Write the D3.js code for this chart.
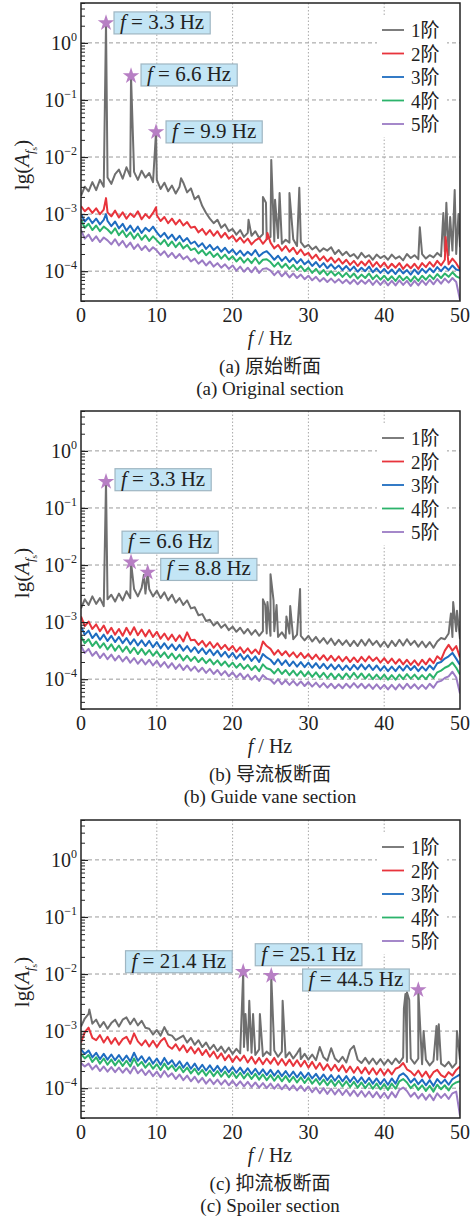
<!DOCTYPE html>
<html>
<head>
<meta charset="utf-8">
<script src="https://cdn.jsdelivr.net/npm/d3@7"></script>
<style>
body { margin: 0; background: #fff; }
svg { display: block; }
text { font-family: "Liberation Serif", "Times New Roman", "Noto Sans CJK SC", serif; fill: #222; }
</style>
</head>
<body>
<div id="chart"></div>
<script>
// lg(A) of each mode, one value every 0.5 Hz from 0 to 50 Hz (101 values)
var freqs = d3.range(101).map(i => i / 2);
var seriesNames = ["1阶", "2阶", "3阶", "4阶", "5阶"];
var xTicks = [0, 10, 20, 30, 40, 50];
var yDecades = [0, -1, -2, -3, -4];

// (a) original section
var origLg1 = [
  -2.68, -2.52, -2.60, -2.44, -2.58, -2.40, -2.52, -2.36, -2.47, -2.30,
  -2.22, -2.38, -2.18, -2.34, -2.26, -2.40, -2.24, -2.36, -2.28, -2.44,
  -2.40, -2.56, -2.45, -2.60, -2.50, -2.64, -2.52, -2.45, -2.62, -2.55,
  -2.74, -2.68, -2.86, -2.98, -3.08, -3.16, -3.10, -3.24, -3.18, -3.30,
  -3.26, -3.36, -3.28, -3.40, -3.33, -3.38, -3.30, -3.42, -3.35, -3.44,
  -3.40, -3.48, -3.42, -3.52, -3.45, -3.50, -3.44, -3.56, -3.49, -3.58,
  -3.54, -3.62, -3.57, -3.66, -3.60, -3.64, -3.58, -3.70, -3.63, -3.72,
  -3.66, -3.74, -3.70, -3.78, -3.68, -3.76, -3.72, -3.80, -3.71, -3.77,
  -3.73, -3.80, -3.71, -3.78, -3.74, -3.81, -3.70, -3.77, -3.72, -3.79,
  -3.70, -3.78, -3.72, -3.76, -3.68, -3.74, -3.66, -3.72, -3.64, -3.70,
  -3.58];
var origLg2 = [
  -2.86, -2.95, -2.89, -2.98, -2.90, -3.00, -2.92, -2.97, -3.04, -2.94,
  -3.06, -2.97, -3.08, -2.99, -3.05, -2.95, -3.09, -3.00, -3.07, -2.98,
  -3.02, -3.12, -3.05, -3.16, -3.08, -3.18, -3.10, -3.20, -3.14, -3.24,
  -3.22, -3.32, -3.26, -3.36, -3.28, -3.38, -3.30, -3.41, -3.33, -3.43,
  -3.38, -3.48, -3.41, -3.50, -3.43, -3.53, -3.46, -3.42, -3.52, -3.44,
  -3.50, -3.60, -3.54, -3.64, -3.56, -3.66, -3.59, -3.70, -3.62, -3.72,
  -3.68, -3.78, -3.71, -3.81, -3.74, -3.83, -3.76, -3.85, -3.78, -3.87,
  -3.80, -3.89, -3.82, -3.91, -3.83, -3.90, -3.81, -3.92, -3.84, -3.93,
  -3.85, -3.95, -3.87, -3.94, -3.86, -3.96, -3.88, -3.95, -3.87, -3.96,
  -3.86, -3.93, -3.84, -3.92, -3.82, -3.90, -3.80, -3.88, -3.78, -3.86,
  -3.97];
var origLg3 = [
  -3.00, -3.13, -3.06, -3.16, -3.08, -3.18, -3.10, -3.12, -3.21, -3.13,
  -3.25, -3.17, -3.29, -3.20, -3.31, -3.22, -3.33, -3.24, -3.30, -3.22,
  -3.32, -3.40, -3.33, -3.43, -3.36, -3.46, -3.38, -3.48, -3.42, -3.52,
  -3.48, -3.57, -3.51, -3.61, -3.54, -3.63, -3.57, -3.66, -3.59, -3.68,
  -3.62, -3.71, -3.64, -3.73, -3.66, -3.72, -3.63, -3.74, -3.68, -3.65,
  -3.72, -3.80, -3.73, -3.82, -3.75, -3.84, -3.77, -3.86, -3.79, -3.88,
  -3.82, -3.91, -3.84, -3.93, -3.86, -3.95, -3.88, -3.96, -3.90, -3.98,
  -3.91, -3.99, -3.92, -4.01, -3.94, -4.00, -3.92, -4.02, -3.95, -4.03,
  -3.96, -4.04, -3.97, -4.05, -3.96, -4.04, -3.98, -4.06, -3.97, -4.05,
  -3.96, -4.03, -3.95, -4.02, -3.93, -4.00, -3.92, -3.98, -3.90, -3.97,
  -3.99];
var origLg4 = [
  -3.10, -3.24, -3.17, -3.28, -3.20, -3.30, -3.22, -3.27, -3.34, -3.25,
  -3.37, -3.29, -3.40, -3.32, -3.43, -3.34, -3.45, -3.37, -3.47, -3.39,
  -3.46, -3.53, -3.45, -3.56, -3.48, -3.58, -3.50, -3.60, -3.54, -3.63,
  -3.60, -3.69, -3.63, -3.72, -3.66, -3.75, -3.69, -3.78, -3.71, -3.80,
  -3.74, -3.83, -3.76, -3.85, -3.78, -3.86, -3.77, -3.87, -3.80, -3.79,
  -3.84, -3.92, -3.85, -3.94, -3.87, -3.96, -3.89, -3.98, -3.91, -4.00,
  -3.94, -4.03, -3.96, -4.05, -3.98, -4.07, -4.00, -4.08, -4.02, -4.10,
  -4.03, -4.11, -4.04, -4.13, -4.06, -4.12, -4.04, -4.14, -4.07, -4.15,
  -4.08, -4.16, -4.09, -4.17, -4.08, -4.16, -4.10, -4.18, -4.09, -4.17,
  -4.08, -4.15, -4.07, -4.14, -4.05, -4.12, -4.04, -4.10, -4.02, -4.09,
  -4.12];
var origLg5 = [
  -3.28, -3.43, -3.36, -3.47, -3.39, -3.49, -3.41, -3.46, -3.53, -3.44,
  -3.55, -3.47, -3.58, -3.50, -3.61, -3.53, -3.63, -3.56, -3.65, -3.58,
  -3.64, -3.72, -3.65, -3.75, -3.68, -3.77, -3.70, -3.79, -3.74, -3.83,
  -3.78, -3.87, -3.81, -3.90, -3.83, -3.92, -3.86, -3.94, -3.88, -3.96,
  -3.90, -3.99, -3.92, -4.01, -3.94, -4.02, -3.93, -4.03, -3.96, -3.95,
  -3.99, -4.07, -4.00, -4.09, -4.02, -4.11, -4.04, -4.12, -4.06, -4.14,
  -4.08, -4.16, -4.10, -4.18, -4.12, -4.19, -4.13, -4.20, -4.14, -4.21,
  -4.15, -4.22, -4.15, -4.23, -4.16, -4.22, -4.15, -4.24, -4.16, -4.24,
  -4.16, -4.25, -4.17, -4.25, -4.16, -4.24, -4.17, -4.26, -4.17, -4.25,
  -4.16, -4.24, -4.15, -4.23, -4.14, -4.22, -4.13, -4.20, -4.12, -4.19,
  -4.50];
// narrow spikes [Hz, lg(A)]
var origPeaks1 = [[3.3, 0.35], [6.6, -0.58], [9.9, -1.56], [13.2, -2.37], [22.1, -3.10],
  [24.0, -2.70], [24.4, -2.80], [25.1, -2.05], [25.6, -2.75], [26.2, -2.63], [27.5, -2.63],
  [28.8, -2.54], [44.7, -3.23], [47.8, -2.98], [48.2, -2.80], [48.7, -3.05], [49.3, -2.58],
  [49.8, -3.00]];
var origPeaks2 = [[3.3, -2.72], [9.9, -2.88], [24.6, -3.33], [48.1, -3.40]];
var origPeaks3 = [[3.3, -3.00]];
var origMarks = [3.3, 6.6, 9.9];

// (b) guide vane section
var vaneLg1 = [
  -2.76, -2.60, -2.70, -2.55, -2.68, -2.58, -2.72, -2.60, -2.52, -2.64,
  -2.50, -2.62, -2.46, -2.58, -2.42, -2.55, -2.40, -2.50, -2.42, -2.55,
  -2.45, -2.58, -2.48, -2.62, -2.52, -2.66, -2.58, -2.70, -2.62, -2.76,
  -2.74, -2.88, -2.86, -2.98, -2.96, -3.06, -3.00, -3.10, -3.04, -3.14,
  -3.08, -3.17, -3.10, -3.20, -3.12, -3.22, -3.14, -3.24, -3.16, -3.20,
  -3.24, -3.16, -3.26, -3.18, -3.28, -3.20, -3.30, -3.22, -3.24, -3.32,
  -3.24, -3.34, -3.26, -3.36, -3.28, -3.38, -3.29, -3.40, -3.31, -3.40,
  -3.32, -3.42, -3.33, -3.42, -3.31, -3.41, -3.30, -3.40, -3.33, -3.43,
  -3.34, -3.44, -3.33, -3.42, -3.31, -3.41, -3.30, -3.40, -3.33, -3.43,
  -3.34, -3.44, -3.35, -3.45, -3.34, -3.28, -3.30, -3.20, -3.26, -3.16,
  -3.30];
var vaneLg2 = [
  -2.90, -3.07, -2.99, -3.12, -3.04, -3.16, -3.06, -3.20, -3.10, -3.22,
  -3.12, -3.24, -3.10, -3.22, -3.09, -3.23, -3.13, -3.25, -3.14, -3.26,
  -3.17, -3.29, -3.20, -3.31, -3.22, -3.33, -3.23, -3.34, -3.18, -3.32,
  -3.31, -3.40, -3.33, -3.43, -3.35, -3.45, -3.37, -3.47, -3.40, -3.49,
  -3.42, -3.52, -3.44, -3.54, -3.46, -3.55, -3.48, -3.56, -3.34, -3.42,
  -3.47, -3.57, -3.49, -3.58, -3.51, -3.60, -3.53, -3.62, -3.54, -3.63,
  -3.56, -3.65, -3.57, -3.66, -3.58, -3.67, -3.59, -3.68, -3.60, -3.69,
  -3.61, -3.70, -3.62, -3.70, -3.61, -3.69, -3.60, -3.68, -3.62, -3.71,
  -3.63, -3.72, -3.64, -3.73, -3.65, -3.74, -3.66, -3.75, -3.67, -3.76,
  -3.66, -3.74, -3.64, -3.72, -3.60, -3.66, -3.50, -3.40, -3.50, -3.42,
  -3.62];
var vaneLg3 = [
  -3.08, -3.22, -3.15, -3.28, -3.20, -3.31, -3.22, -3.33, -3.24, -3.35,
  -3.26, -3.37, -3.28, -3.39, -3.30, -3.41, -3.32, -3.42, -3.33, -3.44,
  -3.35, -3.46, -3.37, -3.47, -3.39, -3.49, -3.40, -3.50, -3.42, -3.52,
  -3.44, -3.54, -3.46, -3.56, -3.48, -3.58, -3.50, -3.60, -3.52, -3.62,
  -3.54, -3.64, -3.56, -3.66, -3.58, -3.68, -3.60, -3.70, -3.56, -3.62,
  -3.66, -3.74, -3.65, -3.75, -3.67, -3.77, -3.69, -3.78, -3.70, -3.79,
  -3.71, -3.80, -3.72, -3.81, -3.73, -3.82, -3.74, -3.83, -3.75, -3.84,
  -3.76, -3.84, -3.75, -3.83, -3.74, -3.83, -3.75, -3.84, -3.76, -3.85,
  -3.77, -3.86, -3.78, -3.86, -3.77, -3.85, -3.76, -3.84, -3.77, -3.86,
  -3.78, -3.85, -3.76, -3.83, -3.72, -3.70, -3.64, -3.60, -3.54, -3.64,
  -3.75];
var vaneLg4 = [
  -3.25, -3.37, -3.30, -3.42, -3.34, -3.45, -3.37, -3.48, -3.39, -3.50,
  -3.41, -3.52, -3.43, -3.54, -3.45, -3.56, -3.47, -3.57, -3.49, -3.59,
  -3.51, -3.61, -3.53, -3.63, -3.55, -3.65, -3.57, -3.67, -3.59, -3.68,
  -3.61, -3.70, -3.63, -3.72, -3.65, -3.74, -3.67, -3.76, -3.69, -3.78,
  -3.71, -3.80, -3.73, -3.82, -3.75, -3.84, -3.77, -3.86, -3.74, -3.81,
  -3.83, -3.90, -3.82, -3.91, -3.84, -3.93, -3.85, -3.94, -3.86, -3.95,
  -3.87, -3.96, -3.88, -3.97, -3.89, -3.98, -3.90, -3.99, -3.91, -3.99,
  -3.90, -3.98, -3.89, -3.98, -3.90, -3.99, -3.91, -4.00, -3.92, -4.00,
  -3.92, -4.01, -3.93, -4.01, -3.92, -4.00, -3.91, -3.99, -3.92, -4.00,
  -3.93, -4.00, -3.91, -3.98, -3.88, -3.85, -3.80, -3.77, -3.71, -3.80,
  -3.92];
var vaneLg5 = [
  -3.42, -3.54, -3.47, -3.59, -3.52, -3.63, -3.55, -3.65, -3.57, -3.67,
  -3.59, -3.69, -3.61, -3.71, -3.63, -3.73, -3.65, -3.74, -3.66, -3.76,
  -3.68, -3.78, -3.70, -3.80, -3.72, -3.82, -3.74, -3.84, -3.76, -3.85,
  -3.78, -3.87, -3.80, -3.89, -3.82, -3.91, -3.84, -3.93, -3.86, -3.95,
  -3.88, -3.97, -3.90, -3.99, -3.92, -4.01, -3.94, -4.03, -3.93, -3.99,
  -4.01, -4.08, -4.00, -4.09, -4.02, -4.10, -4.03, -4.11, -4.04, -4.12,
  -4.05, -4.13, -4.06, -4.14, -4.07, -4.15, -4.08, -4.16, -4.09, -4.16,
  -4.08, -4.15, -4.07, -4.15, -4.08, -4.16, -4.09, -4.17, -4.09, -4.17,
  -4.10, -4.18, -4.10, -4.18, -4.09, -4.17, -4.08, -4.16, -4.09, -4.17,
  -4.10, -4.17, -4.08, -4.15, -4.05, -4.03, -3.98, -3.95, -3.87, -3.97,
  -4.25];
var vanePeaks1 = [[3.3, -0.54], [6.6, -1.95], [8.3, -2.17], [8.8, -2.13], [24.0, -2.60],
  [24.3, -2.70], [24.6, -2.65], [25.0, -2.16], [25.4, -2.62], [25.8, -2.70], [27.1, -2.90],
  [27.6, -2.72], [28.9, -2.42], [48.8, -2.85], [49.1, -2.65], [49.6, -2.80]];
var vaneMarks = [3.3, 6.6, 8.8];

// (c) spoiler section
var spoilLg1 = [
  -2.92, -2.78, -2.70, -2.87, -2.80, -2.93, -2.84, -2.96, -2.86, -2.80,
  -2.92, -2.80, -2.76, -2.88, -2.78, -2.90, -2.82, -2.94, -2.96, -3.06,
  -2.98, -3.08, -2.93, -3.06, -3.08, -3.16, -3.12, -3.08, -3.20, -3.12,
  -3.24, -3.16, -3.28, -3.20, -3.32, -3.24, -3.35, -3.27, -3.38, -3.29,
  -3.40, -3.31, -3.39, -3.28, -3.34, -3.38, -3.42, -3.32, -3.44, -3.36,
  -3.42, -3.34, -3.45, -3.36, -3.46, -3.37, -3.48, -3.39, -3.49, -3.40,
  -3.50, -3.41, -3.51, -3.28, -3.46, -3.52, -3.30, -3.48, -3.54, -3.45,
  -3.55, -3.33, -3.26, -3.50, -3.56, -3.47, -3.57, -3.48, -3.58, -3.49,
  -3.59, -3.50, -3.58, -3.48, -3.56, -3.46, -3.54, -3.48, -3.57, -3.48,
  -3.58, -3.50, -3.60, -3.52, -3.50, -3.57, -3.62, -3.54, -3.64, -3.56,
  -3.50];
var spoilLg2 = [
  -3.20, -3.02, -2.94, -3.12, -3.16, -3.07, -3.20, -3.10, -3.22, -3.12,
  -3.24, -3.14, -3.10, -3.22, -3.04, -3.18, -3.25, -3.16, -3.27, -3.17,
  -3.28, -3.18, -3.12, -3.26, -3.31, -3.23, -3.34, -3.25, -3.37, -3.28,
  -3.39, -3.30, -3.42, -3.33, -3.45, -3.36, -3.48, -3.39, -3.51, -3.42,
  -3.54, -3.44, -3.52, -3.43, -3.55, -3.45, -3.57, -3.47, -3.58, -3.48,
  -3.57, -3.47, -3.59, -3.49, -3.60, -3.50, -3.61, -3.51, -3.62, -3.52,
  -3.64, -3.54, -3.66, -3.56, -3.68, -3.58, -3.69, -3.59, -3.70, -3.60,
  -3.72, -3.62, -3.73, -3.63, -3.74, -3.64, -3.75, -3.65, -3.76, -3.66,
  -3.77, -3.67, -3.76, -3.66, -3.63, -3.56, -3.67, -3.71, -3.78, -3.69,
  -3.80, -3.71, -3.82, -3.72, -3.68, -3.77, -3.81, -3.72, -3.78, -3.68,
  -3.62];
var spoilLg3 = [
  -3.32, -3.40, -3.34, -3.46, -3.38, -3.49, -3.40, -3.50, -3.41, -3.51,
  -3.42, -3.52, -3.43, -3.53, -3.38, -3.52, -3.44, -3.55, -3.46, -3.57,
  -3.48, -3.59, -3.47, -3.58, -3.51, -3.62, -3.53, -3.64, -3.55, -3.66,
  -3.57, -3.68, -3.59, -3.69, -3.60, -3.70, -3.61, -3.71, -3.62, -3.72,
  -3.63, -3.73, -3.64, -3.74, -3.65, -3.75, -3.66, -3.76, -3.67, -3.77,
  -3.68, -3.78, -3.69, -3.79, -3.70, -3.80, -3.71, -3.81, -3.72, -3.82,
  -3.73, -3.83, -3.75, -3.85, -3.76, -3.86, -3.77, -3.87, -3.78, -3.88,
  -3.79, -3.89, -3.80, -3.90, -3.81, -3.91, -3.82, -3.92, -3.83, -3.93,
  -3.84, -3.94, -3.83, -3.92, -3.78, -3.74, -3.80, -3.90, -3.83, -3.93,
  -3.85, -3.95, -3.86, -3.96, -3.84, -3.92, -3.85, -3.94, -3.84, -3.80,
  -3.76];
var spoilLg4 = [
  -3.40, -3.48, -3.42, -3.54, -3.46, -3.57, -3.48, -3.59, -3.50, -3.60,
  -3.51, -3.61, -3.52, -3.62, -3.48, -3.61, -3.54, -3.64, -3.56, -3.66,
  -3.58, -3.68, -3.57, -3.67, -3.60, -3.70, -3.62, -3.72, -3.64, -3.74,
  -3.66, -3.76, -3.68, -3.78, -3.69, -3.79, -3.70, -3.80, -3.71, -3.81,
  -3.72, -3.82, -3.73, -3.83, -3.74, -3.84, -3.75, -3.85, -3.76, -3.86,
  -3.77, -3.87, -3.78, -3.88, -3.79, -3.89, -3.80, -3.90, -3.81, -3.91,
  -3.82, -3.92, -3.84, -3.94, -3.85, -3.95, -3.86, -3.96, -3.87, -3.97,
  -3.88, -3.98, -3.89, -3.99, -3.90, -4.00, -3.91, -4.01, -3.92, -4.02,
  -3.93, -4.03, -3.92, -4.01, -3.88, -3.84, -3.90, -4.00, -3.93, -4.03,
  -3.95, -4.05, -3.96, -4.06, -3.94, -4.02, -3.95, -4.04, -3.94, -3.90,
  -3.88];
var spoilLg5 = [
  -3.56, -3.62, -3.57, -3.67, -3.60, -3.70, -3.62, -3.71, -3.63, -3.72,
  -3.64, -3.73, -3.65, -3.74, -3.62, -3.74, -3.67, -3.77, -3.69, -3.79,
  -3.71, -3.81, -3.70, -3.80, -3.74, -3.84, -3.76, -3.86, -3.78, -3.88,
  -3.80, -3.90, -3.82, -3.92, -3.84, -3.93, -3.85, -3.94, -3.86, -3.95,
  -3.87, -3.96, -3.88, -3.97, -3.89, -3.98, -3.90, -3.99, -3.91, -4.00,
  -3.92, -4.01, -3.93, -4.02, -3.94, -4.03, -3.95, -4.04, -3.96, -4.05,
  -3.97, -4.07, -3.99, -4.09, -4.00, -4.10, -4.01, -4.11, -4.02, -4.12,
  -4.03, -4.13, -4.04, -4.14, -4.05, -4.15, -4.06, -4.16, -4.07, -4.17,
  -4.08, -4.18, -4.07, -4.16, -4.03, -3.99, -4.05, -4.15, -4.08, -4.18,
  -4.10, -4.20, -4.11, -4.21, -4.09, -4.17, -4.10, -4.19, -4.09, -4.06,
  -4.48];
var spoilPeaks1 = [[1.1, -2.62], [21.4, -1.96], [21.7, -2.70], [22.2, -2.47], [22.7, -2.70],
  [23.6, -2.70], [25.1, -2.03], [26.6, -2.47], [28.9, -3.30], [42.6, -2.60], [42.8, -2.35],
  [43.0, -2.32], [43.3, -2.45], [44.5, -2.28], [45.2, -3.00], [46.9, -2.91], [47.2, -2.88],
  [49.6, -3.00]];
var spoilMarks = [21.4, 25.1, 44.5];

var colors = ["#6f6f6f", "#e8343c", "#1e6cc0", "#2cb36b", "#9b7bc4"];
var width = 475, height = 1219;
var left = 81, right = 460, plotH = 298;

var panels = [
  { top: 3, lg: [origLg1, origLg2, origLg3, origLg4, origLg5],
    peaks: [origPeaks1, origPeaks2, origPeaks3, [], []], marks: origMarks,
    boxes: [[8, -11, "start"], [10, -12, "start"], [10, -11, "start"]],
    caption: ["(a) 原始断面", "(a) Original section"] },
  { top: 411, lg: [vaneLg1, vaneLg2, vaneLg3, vaneLg4, vaneLg5],
    peaks: [vanePeaks1, [], [], [], []], marks: vaneMarks,
    boxes: [[9, -13, "start"], [-9, -31, "start"], [13, -14, "start"]],
    caption: ["(b) 导流板断面", "(b) Guide vane section"] },
  { top: 820, lg: [spoilLg1, spoilLg2, spoilLg3, spoilLg4, spoilLg5],
    peaks: [spoilPeaks1, [], [], [], []], marks: spoilMarks,
    boxes: [[-11, -21, "end"], [-16, -32, "start"], [-9, -21, "end"]],
    caption: ["(c) 抑流板断面", "(c) Spoiler section"] }
];

var svg = d3.select("#chart").append("svg")
    .attr("width", width)
    .attr("height", height);

var x = d3.scaleLinear().domain([0, 50]).range([left, right]);
var star = d3.symbol().type(d3.symbolStar).size(85);

panels.forEach(function (p, pi) {
    var top = p.top, bottom = top + plotH;
    var y = d3.scaleLog().domain([3e-5, 5]).range([bottom, top]);
    var g = svg.append("g");

    g.append("clipPath").attr("id", "clip" + pi)
        .append("rect")
        .attr("x", left).attr("y", top)
        .attr("width", right - left).attr("height", plotH);

    // grid
    g.selectAll(".hgrid").data(yDecades).enter().append("line")
        .attr("x1", left).attr("x2", right)
        .attr("y1", d => y(Math.pow(10, d))).attr("y2", d => y(Math.pow(10, d)))
        .style("stroke", "#9a9a9a").style("stroke-width", "1px")
        .style("stroke-dasharray", "4,3");
    g.selectAll(".vgrid").data(xTicks.slice(1, -1)).enter().append("line")
        .attr("x1", d => x(d)).attr("x2", d => x(d))
        .attr("y1", top).attr("y2", bottom)
        .style("stroke", "#a8a8a8").style("stroke-width", "1px")
        .style("stroke-dasharray", "1.5,2");

    // legend background hides the grid
    g.append("rect")
        .attr("x", 377).attr("y", top + 13)
        .attr("width", 70).attr("height", 121)
        .style("fill", "#fff");

    var line = d3.line()
        .x(d => x(d[0]))
        .y(d => y(Math.pow(10, d[1])));

    var plot = g.append("g").attr("clip-path", "url(#clip" + pi + ")");
    p.lg.forEach(function (vals, si) {
        var pts = vals.map((v, i) => [freqs[i], v]).concat(p.peaks[si]);
        pts.sort((a, b) => a[0] - b[0]);
        plot.append("path")
            .datum(pts)
            .attr("d", line)
            .style("fill", "none")
            .style("stroke", colors[si])
            .style("stroke-width", "2px")
            .style("stroke-linejoin", "round");
    });

    // marked peaks
    p.marks.forEach(function (f, mi) {
        var v = p.peaks[0].find(d => d[0] === f)[1];
        var sx = x(f), sy = y(Math.pow(10, v));
        g.append("path")
            .attr("d", star)
            .attr("transform", "translate(" + sx + "," + sy + ")")
            .style("fill", "#b77fc4");

        var b = p.boxes[mi];
        var box = g.append("rect")
            .style("fill", "#c3e5f5")
            .style("stroke", "#9fb6c2")
            .style("stroke-width", "1.2px");
        var t = g.append("text")
            .attr("y", sy + b[1] + 17)
            .style("font-size", "21px");
        t.append("tspan").text("f").style("font-style", "italic");
        t.append("tspan").text(" = " + f + " Hz");
        var w = t.node().getComputedTextLength() + 12;
        var bx = b[2] === "end" ? sx + b[0] - w : sx + b[0];
        t.attr("x", bx + 6);
        box.attr("x", bx).attr("y", sy + b[1])
            .attr("width", w).attr("height", 22);
    });

    // legend
    seriesNames.forEach(function (name, si) {
        var ly = top + 27 + si * 23.5;
        g.append("line")
            .attr("x1", 382).attr("x2", 404)
            .attr("y1", ly).attr("y2", ly)
            .style("stroke", colors[si]).style("stroke-width", "1.8px");
        g.append("text")
            .attr("x", 411).attr("y", ly + 7)
            .style("font-size", "19px")
            .text(name);
    });

    // frame and ticks
    g.append("rect")
        .attr("x", left).attr("y", top)
        .attr("width", right - left).attr("height", plotH)
        .style("fill", "none").style("stroke", "#222").style("stroke-width", "1.5px");

    var minor = y.ticks().filter(d => Math.abs(Math.log10(d) - Math.round(Math.log10(d))) > 1e-6);
    g.append("g")
        .attr("transform", "translate(" + left + ",0)")
        .call(d3.axisRight(y).tickValues(minor).tickSize(4).tickFormat(""))
        .call(s => s.select(".domain").remove())
        .selectAll("line").style("stroke", "#222");
    g.append("g")
        .attr("transform", "translate(" + left + ",0)")
        .call(d3.axisRight(y).tickValues(yDecades.map(d => Math.pow(10, d))).tickSize(7).tickFormat(""))
        .call(s => s.select(".domain").remove())
        .selectAll("line").style("stroke", "#222").style("stroke-width", "1.2px");

    // y tick labels 10^n
    yDecades.forEach(function (d) {
        var t = g.append("text")
            .attr("x", 77).attr("y", y(Math.pow(10, d)) + 7)
            .attr("text-anchor", "end")
            .style("font-size", "20px");
        t.append("tspan").text("10");
        t.append("tspan").text(d < 0 ? "\u2212" + (-d) : "" + d)
            .attr("dy", -9).style("font-size", "12px");
    });

    // x tick labels
    g.selectAll(".xl").data(xTicks).enter().append("text")
        .attr("x", d => x(d)).attr("y", bottom + 21)
        .attr("text-anchor", "middle")
        .style("font-size", "20px")
        .text(d => d);

    var xl = g.append("text")
        .attr("x", 270).attr("y", bottom + 44)
        .attr("text-anchor", "middle")
        .style("font-size", "20px");
    xl.append("tspan").text("f").style("font-style", "italic");
    xl.append("tspan").text(" / Hz");

    var yl = g.append("text")
        .attr("transform", "translate(29," + (top + 162) + ") rotate(-90)")
        .attr("text-anchor", "middle")
        .style("font-size", "21px");
    yl.append("tspan").text("lg(");
    yl.append("tspan").text("A").style("font-style", "italic");
    yl.append("tspan").text("f").style("font-style", "italic").style("font-size", "13px").attr("dy", 5);
    yl.append("tspan").text("s").style("font-size", "9px").attr("dy", 3);
    yl.append("tspan").text(")").attr("dy", -8);

    g.append("text")
        .attr("x", 270).attr("y", bottom + 72)
        .attr("text-anchor", "middle")
        .style("font-size", "19px")
        .text(p.caption[0]);
    g.append("text")
        .attr("x", 270).attr("y", bottom + 94)
        .attr("text-anchor", "middle")
        .style("font-size", "19px")
        .text(p.caption[1]);
});
</script>
</body>
</html>
